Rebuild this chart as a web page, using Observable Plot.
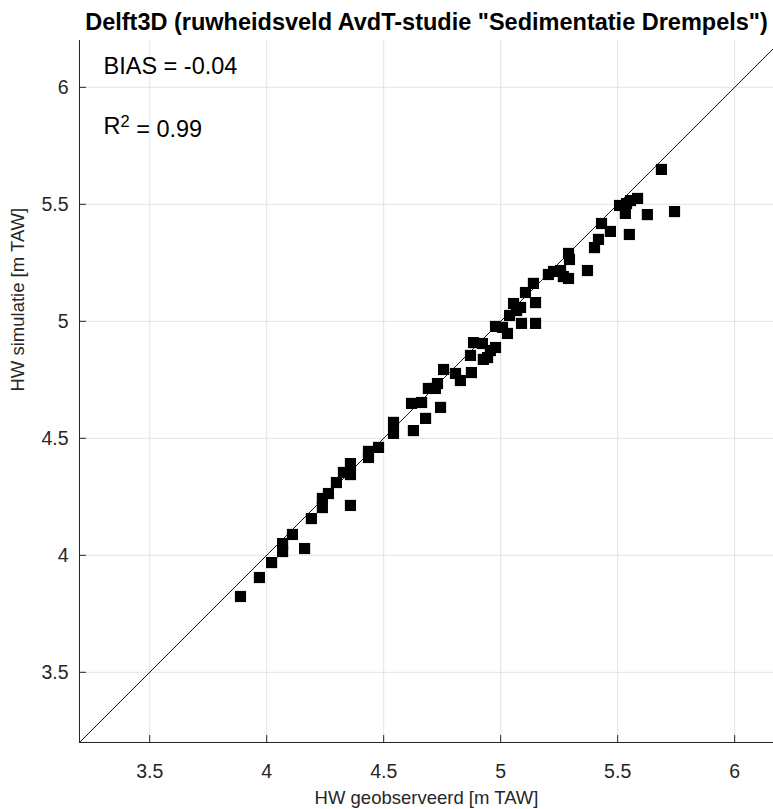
<!DOCTYPE html>
<html>
<head>
<meta charset="utf-8">
<script src="https://cdn.jsdelivr.net/npm/d3@7"></script>
<script src="https://cdn.jsdelivr.net/npm/@observablehq/plot@0.6"></script>
<style>
  html, body { margin: 0; padding: 0; background: #fff; }
  #chart svg { display: block; }
</style>
</head>
<body>
<div id="chart"></div>
<script>
// Observed high water [m TAW]
const hwObserved = [
  3.888, 3.969, 4.021, 4.068, 4.068, 4.110, 4.162, 4.191, 4.238, 4.238,
  4.264, 4.298, 4.328, 4.358, 4.358, 4.358, 4.435, 4.435, 4.478, 4.542,
  4.542, 4.627, 4.619, 4.662, 4.679, 4.691, 4.721, 4.743, 4.730, 4.756,
  4.807, 4.828, 4.875, 4.871, 4.884, 4.922, 4.926, 4.944, 4.956, 4.978,
  4.978, 5.008, 5.029, 5.038, 5.055, 5.068, 5.089, 5.085, 5.106, 5.149,
  5.149, 5.140, 5.204, 5.226, 5.256, 5.268, 5.290, 5.290, 5.294, 5.371,
  5.401, 5.418, 5.431, 5.469, 5.550, 5.508, 5.533, 5.538, 5.555, 5.585,
  5.627, 5.743, 5.687
];
// Simulated high water [m TAW]
const hwSimulated = [
  3.824, 3.905, 3.969, 4.016, 4.050, 4.089, 4.029, 4.157, 4.204, 4.243,
  4.264, 4.311, 4.354, 4.392, 4.345, 4.213, 4.418, 4.444, 4.461, 4.521,
  4.568, 4.533, 4.649, 4.653, 4.585, 4.713, 4.713, 4.632, 4.734, 4.794,
  4.777, 4.747, 4.781, 4.854, 4.909, 4.905, 4.837, 4.845, 4.875, 4.888,
  4.978, 4.974, 4.948, 5.025, 5.076, 5.046, 4.991, 5.059, 5.123, 5.080,
  4.991, 5.162, 5.200, 5.213, 5.217, 5.191, 5.183, 5.290, 5.264, 5.217,
  5.315, 5.350, 5.418, 5.384, 5.371, 5.495, 5.461, 5.503, 5.516, 5.525,
  5.456, 5.469, 5.649
];
const xTicks = [3.5, 4, 4.5, 5, 5.5, 6];
const yTicks = [3.5, 4, 4.5, 5, 5.5, 6];
const xDomain = [3.2, 6.166];
const yDomain = [3.2, 6.2];
const title = 'Delft3D (ruwheidsveld AvdT-studie "Sedimentatie Drempels")';
const xLabel = "HW geobserveerd [m TAW]";
const yLabel = "HW simulatie [m TAW]";
const biasText = "BIAS = -0.04";
const r2Base = "R";
const r2Sup = "2";
const r2Rest = " = 0.99";

const points = hwObserved.map((x, i) => ({x, y: hwSimulated[i]}));
const diagonal = [yDomain[0], yDomain[1]].map(v => ({x: v, y: v}));

const W = 773, H = 809;
const mL = 79, mR = 0, mT = 40, mB = 67;
const frameW = W - mL - mR, frameH = H - mT - mB;
const ink = "#262626";
const fmt = d => String(d);

const chart = Plot.plot({
  width: W,
  height: H,
  marginLeft: mL,
  marginRight: mR,
  marginTop: mT,
  marginBottom: mB,
  style: {fontFamily: "'Liberation Sans', Arial, Helvetica, sans-serif", color: ink, background: "#fff"},
  x: {domain: xDomain},
  y: {domain: yDomain},
  marks: [
    Plot.gridX(xTicks, {stroke: "#e3e3e3", strokeOpacity: 1}),
    Plot.gridY(yTicks, {stroke: "#e3e3e3", strokeOpacity: 1}),
    Plot.line(diagonal, {x: "x", y: "y", stroke: "#1a1a1a", strokeWidth: 1, clip: true}),
    Plot.dot(points, {x: "x", y: "y", symbol: "square", r: 6.3, fill: "#000", stroke: "none"}),
    Plot.ruleX([xDomain[0]], {stroke: ink}),
    Plot.ruleY([yDomain[0]], {stroke: ink}),
    Plot.ruleX(xTicks, {x: d => d, stroke: ink, insetTop: frameH - 7}),
    Plot.ruleY(yTicks, {y: d => d, stroke: ink, insetRight: frameW - 7}),
    Plot.axisX(xTicks, {tickSize: 0, tickPadding: 22, fontSize: 19.5, tickFormat: fmt, label: null, fill: ink}),
    Plot.axisY(yTicks, {tickSize: 0, tickPadding: 11, fontSize: 19.5, tickFormat: fmt, label: null, fill: ink}),
    Plot.text([xLabel], {frameAnchor: "bottom", dy: 61, fontSize: 18.5, fill: ink}),
    Plot.text([yLabel], {frameAnchor: "left", dx: -61, rotate: -90, fontSize: 18.5, fill: ink}),
    Plot.text([title], {frameAnchor: "top", dy: -27, fontSize: 23.5, fontWeight: "bold", fill: "#000"}),
    Plot.text([biasText], {frameAnchor: "top-left", dx: 24, dy: 17, textAnchor: "start", fontSize: 23.5, fill: "#000"}),
    Plot.text([r2Base + r2Sup + r2Rest], {frameAnchor: "top-left", dx: 24, dy: 77, textAnchor: "start", fontSize: 23.5, fill: "#000", className: "r2label"})
  ]
});
// render the exponent of R² as a raised, smaller "2"
d3.select(chart).selectAll(".r2label text").each(function() {
  const t = d3.select(this);
  t.text(null);
  t.append("tspan").text(r2Base);
  t.append("tspan").attr("dy", "-0.45em").attr("font-size", "70%").text(r2Sup);
  t.append("tspan").attr("dy", "0.45em").text(r2Rest);
});
document.getElementById("chart").appendChild(chart);
</script>
</body>
</html>
